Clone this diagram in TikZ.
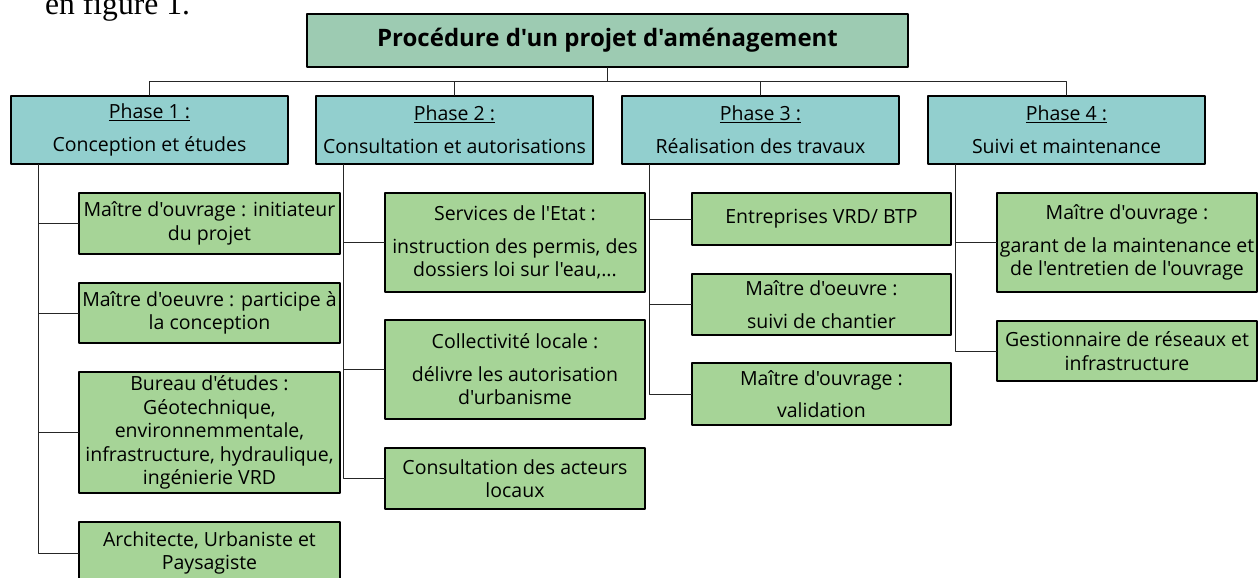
\documentclass[tikz,border=0pt]{standalone}
\usepackage{fontspec}
\setmainfont{Open Sans}[Ligatures=TeXOff]
\newfontfamily\serifont{Liberation Serif}
\usepackage{tikz}

\definecolor{titlegreen}{HTML}{9DCBB2}
\definecolor{phaseteal}{HTML}{92CFCE}
\definecolor{actorgreen}{HTML}{A6D497}

\begin{document}
\begin{tikzpicture}[x=1pt,y=-1pt,line cap=round,line join=round,
    box/.style={draw=black,line width=1.5pt,inner sep=0pt,align=center,font=\fontsize{19.5}{23.5}\selectfont},
    titlebox/.style={box,fill=titlegreen,font=\fontsize{24}{28}\selectfont\bfseries},
    phasebox/.style={box,fill=phaseteal,minimum width=277pt,minimum height=68pt},
    actorbox/.style={box,fill=actorgreen},
    link/.style={line width=1pt,black!85}]
        \useasboundingbox (0,0) rectangle (1258,578);
        \clip (0,0) rectangle (1258,578);
        \node[anchor=base west,inner sep=0pt,font=\serifont\fontsize{31.6}{36}\selectfont] (fig) at (45,15) {en figure 1.};

        \node[titlebox,minimum width=601pt,minimum height=53pt] (proc) at (607.5,40.5) {Procédure d'un projet d'aménagement};
        \node[phasebox] (ph1) at (149.5,130) {\underline{Phase 1 :}\\[9.5pt]Conception et études};
        \node[phasebox] (ph2) at (454.5,130) {\underline{Phase 2 :}\\[9.5pt]Consultation et autorisations};
        \node[phasebox] (ph3) at (760.5,130) {\underline{Phase 3 :}\\[9.5pt]Réalisation des travaux};
        \node[phasebox] (ph4) at (1066.5,130) {\underline{Phase 4 :}\\[9.5pt]Suivi et maintenance};

        \node[actorbox,minimum width=261pt,minimum height=61pt] (mo1) at (209.5,223.5) {Maître d'ouvrage : initiateur\\du projet};
        \node[actorbox,minimum width=261pt,minimum height=60pt] (moe1) at (209.5,313) {Maître d'oeuvre : participe à\\la conception};
        \node[actorbox,minimum width=261pt,minimum height=121pt] (be1) at (209.5,432.5) {Bureau d'études :\\Géotechnique,\\environnemmentale,\\infrastructure, hydraulique,\\ingénierie VRD};
        \node[actorbox,minimum width=261pt,minimum height=62pt] (arch1) at (209.5,553) {Architecte, Urbaniste et\\Paysagiste};

        \node[actorbox,minimum width=260pt,minimum height=99pt] (etat2) at (515,242.5) {Services de l'Etat :\\[9pt]instruction des permis, des\\dossiers loi sur l'eau,...};
        \node[actorbox,minimum width=260pt,minimum height=99pt] (coll2) at (515,369.5) {Collectivité locale :\\[9pt]délivre les autorisation\\d'urbanisme};
        \node[actorbox,minimum width=260pt,minimum height=61pt] (cons2) at (515,478.5) {Consultation des acteurs\\locaux};

        \node[actorbox,minimum width=259pt,minimum height=52pt] (ent3) at (821.5,219) {Entreprises VRD/ BTP};
        \node[actorbox,minimum width=259pt,minimum height=61pt] (moe3) at (821.5,304.5) {Maître d'oeuvre :\\[9pt]suivi de chantier};
        \node[actorbox,minimum width=259pt,minimum height=62pt] (mo3) at (821.5,394) {Maître d'ouvrage :\\[9pt]validation};

        \node[actorbox,minimum width=260pt,minimum height=99pt] (mo4) at (1127,242.5) {Maître d'ouvrage :\\[9pt]garant de la maintenance et\\de l'entretien de l'ouvrage};
        \node[actorbox,minimum width=260pt,minimum height=60pt] (gest4) at (1127,351) {Gestionnaire de réseaux et\\infrastructure};

        \coordinate (bus) at (607.5,81);
        \draw[link] (proc.south) -- (bus);
        \draw[link] (ph1.north) |- (bus);
        \draw[link] (ph2.north) |- (bus);
        \draw[link] (ph3.north) |- (bus);
        \draw[link] (ph4.north) |- (bus);

        \draw[link] ([xshift=28pt]ph1.south west) |- (mo1.west);
        \draw[link] ([xshift=28pt]ph1.south west) |- (moe1.west);
        \draw[link] ([xshift=28pt]ph1.south west) |- (be1.west);
        \draw[link] ([xshift=28pt]ph1.south west) |- (arch1.west);
        \draw[link] ([xshift=28pt]ph2.south west) |- (etat2.west);
        \draw[link] ([xshift=28pt]ph2.south west) |- (coll2.west);
        \draw[link] ([xshift=28pt]ph2.south west) |- (cons2.west);
        \draw[link] ([xshift=28pt]ph3.south west) |- (ent3.west);
        \draw[link] ([xshift=28pt]ph3.south west) |- (moe3.west);
        \draw[link] ([xshift=28pt]ph3.south west) |- (mo3.west);
        \draw[link] ([xshift=28pt]ph4.south west) |- (mo4.west);
        \draw[link] ([xshift=28pt]ph4.south west) |- (gest4.west);
\end{tikzpicture}
\end{document}
